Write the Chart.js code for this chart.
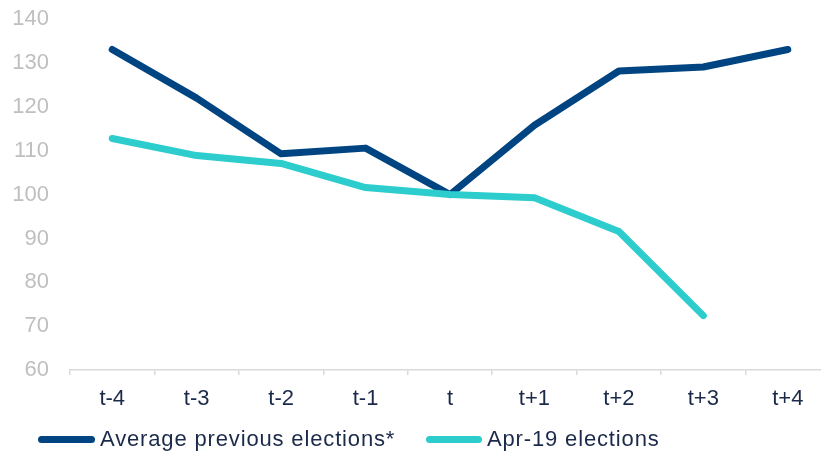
<!DOCTYPE html>
<html>
<head>
<meta charset="utf-8">
<script src="https://cdn.jsdelivr.net/npm/chart.js@4/dist/chart.umd.min.js"></script>
<style>
  html, body { margin: 0; padding: 0; background: #ffffff; }
  #wrap { position: relative; width: 821px; height: 453px; overflow: hidden; }
  #box { position: absolute; left: 0; top: -15px; width: 840px; height: 468px; }
  .leg { position: absolute; top: 426px; height: 26px; display: flex; align-items: center;
         font-family: "Liberation Sans", Arial, sans-serif; font-size: 22px; letter-spacing: 0.85px; color: #1b2a4a; white-space: nowrap; }
  .sw { display: inline-block; height: 7px; border-radius: 4px; margin-right: 5px; }
</style>
</head>
<body>
<div id="wrap">
  <div id="box"><canvas id="c" width="840" height="468"></canvas></div>
  <div class="leg" style="left:38px;"><span class="sw" style="width:57px;background:#004481;"></span><span id="l1"></span></div>
  <div class="leg" style="left:426px;"><span class="sw" style="width:56px;background:#2dcccd;"></span><span id="l2"></span></div>
</div>
<script>
const categories = ["t-4", "t-3", "t-2", "t-1", "t", "t+1", "t+2", "t+3", "t+4"];
const seriesNames = ["Average previous elections*", "Apr-19 elections"];
const averagePrevious = [133.1, 122.0, 109.3, 110.6, 100.0, 115.8, 128.2, 129.1, 133.1];
const apr19 = [112.8, 108.9, 107.1, 101.6, 100.0, 99.3, 91.6, 72.4, null];
const yTicks = [60, 70, 80, 90, 100, 110, 120, 130, 140];

document.getElementById("l1").textContent = seriesNames[0];
document.getElementById("l2").textContent = seriesNames[1];

const font = { family: '"Liberation Sans", Arial, sans-serif', size: 22 };

new Chart(document.getElementById("c"), {
  type: "line",
  data: {
    labels: categories,
    datasets: [
      { label: seriesNames[0], data: averagePrevious, borderColor: "#004481", backgroundColor: "#004481",
        borderWidth: 7, pointRadius: 0, tension: 0, borderCapStyle: "round", borderJoinStyle: "round", order: 2 },
      { label: seriesNames[1], data: apr19, borderColor: "#2dcccd", backgroundColor: "#2dcccd",
        borderWidth: 7, pointRadius: 0, tension: 0, borderCapStyle: "round", borderJoinStyle: "round", order: 1 }
    ]
  },
  options: {
    responsive: false,
    animation: false,
    events: [],
    layout: { padding: { left: 0, right: 10, top: 3, bottom: 0 } },
    plugins: { legend: { display: false }, tooltip: { enabled: false } },
    scales: {
      x: {
        offset: true,
        grid: { offset: true, drawOnChartArea: false, drawTicks: true, tickLength: 5, color: "#d9d9d9", lineWidth: 1.5 },
        border: { display: true, color: "#d9d9d9", width: 1.5 },
        ticks: { color: "#1b2a4a", font: font, padding: 11, maxRotation: 0, autoSkip: false },
        afterFit: (s) => { s.height = 83; }
      },
      y: {
        min: 60, max: 140,
        afterBuildTicks: (s) => { s.ticks = yTicks.map(v => ({ value: v })); },
        grid: { display: false, drawTicks: false },
        border: { display: false },
        ticks: { color: "#bfbfbf", font: font, padding: 21 },
        afterFit: (s) => { s.width = 70; }
      }
    }
  }
});
</script>
</body>
</html>
